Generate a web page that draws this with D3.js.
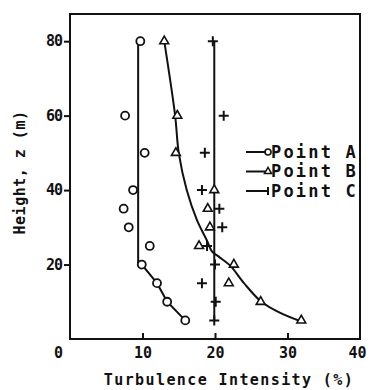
<!DOCTYPE html>
<html>
<head>
<meta charset="utf-8">
<script src="https://cdn.jsdelivr.net/npm/d3@7"></script>
<style>
  body { margin: 0; background: #fff; }
  text { font-family: "DejaVu Sans Mono", monospace; font-weight: bold; fill: #111; }
</style>
</head>
<body>
<div id="chart-container"></div>
<script>
// heights (m) where the three points were measured
const heights = [80, 60, 50, 40, 35, 30, 25, 20, 15, 10, 5];
const pointA = [9.7, 7.6, 10.3, 8.7, 7.4, 8.1, 11.0, 9.9, 12.0, 13.4, 15.9];
const pointB = [13.0, 14.8, 14.6, 19.9, 19.0, 19.3, 17.8, 22.6, 21.9, 26.3, 31.9];
const pointC = [19.7, 21.2, 18.6, 18.2, 20.6, 21.0, 18.9, 20.0, 18.2, 20.1, 19.9];

// fitted lines drawn through the points (intensity, height)
const fitA = [[9.4, 80], [9.4, 20], [9.9, 20], [12.0, 15], [13.4, 10], [15.9, 5]];
const fitB = [[13.0, 80], [14.5, 60], [15.0, 50], [16.1, 40], [17.5, 32], [18.9, 26.4], [19.6, 23.5],
              [20.6, 22], [22.1, 19.7], [24.0, 15], [26.4, 10], [29.0, 7], [31.9, 4.7]];
const fitC = [[19.9, 80], [19.9, 5]];

const xTicks = [0, 10, 20, 30, 40];
const yTicks = [20, 40, 60, 80];
const seriesNames = ["Point A", "Point B", "Point C"];

const margin = { top: 14, right: 14, bottom: 51, left: 70 };
const width = 374 - margin.left - margin.right;
const height = 390 - margin.top - margin.bottom;

const x = d3.scaleLinear().domain([0, 40]).range([0, width]);
const y = d3.scaleLinear().domain([0, 87.3]).range([height, 0]);

const svg = d3.select("#chart-container")
  .append("svg")
    .attr("width", 374)
    .attr("height", 390)
  .append("g")
    .attr("transform", `translate(${margin.left},${margin.top})`);

// frame
svg.append("rect")
  .attr("width", width)
  .attr("height", height)
  .attr("fill", "none")
  .attr("stroke", "#111")
  .attr("stroke-width", 2);

// x axis, ticks point inward
const xAxis = svg.append("g")
  .attr("transform", `translate(0,${height})`)
  .call(d3.axisBottom(x).tickValues(xTicks).tickSizeInner(-6).tickSizeOuter(0).tickPadding(8));
xAxis.select(".domain").remove();
xAxis.selectAll(".tick line")
  .attr("stroke", "#111").attr("stroke-width", 2)
  .style("display", d => (d === 0 || d === 40) ? "none" : null);
xAxis.selectAll(".tick text")
  .style("font-size", "15px")
  .attr("dx", d => d === 0 ? -12 : d === 40 ? -3 : 0);

// y axis, ticks point outward
const yAxis = svg.append("g")
  .call(d3.axisLeft(y).tickValues(yTicks).tickSizeInner(6).tickSizeOuter(0).tickPadding(2));
yAxis.select(".domain").remove();
yAxis.selectAll(".tick line").attr("stroke", "#111").attr("stroke-width", 2);
yAxis.selectAll(".tick text").style("font-size", "15px").attr("letter-spacing", "-1px");

// fitted lines
const line = d3.line()
  .x(d => x(d[0]))
  .y(d => y(d[1]));

svg.append("path").datum(fitA).attr("d", line)
  .attr("fill", "none").attr("stroke", "#111").attr("stroke-width", 2);
svg.append("path").datum(fitB).attr("d", line.curve(d3.curveCatmullRom))
  .attr("fill", "none").attr("stroke", "#111").attr("stroke-width", 2);
svg.append("path").datum(fitC).attr("d", line.curve(d3.curveLinear))
  .attr("fill", "none").attr("stroke", "#111").attr("stroke-width", 2);

// markers
const tri = d3.symbol().type(d3.symbolTriangle).size(34);
const plus = "M-5,0H5M0,-5V5";

svg.selectAll(".ptA")
  .data(heights.map((h, i) => [pointA[i], h]))
  .join("circle")
  .attr("cx", d => x(d[0]))
  .attr("cy", d => y(d[1]))
  .attr("r", 4)
  .attr("fill", "#fff")
  .attr("stroke", "#111")
  .attr("stroke-width", 1.8);

svg.selectAll(".ptB")
  .data(heights.map((h, i) => [pointB[i], h]))
  .join("path")
  .attr("transform", d => `translate(${x(d[0])},${y(d[1])})`)
  .attr("d", tri)
  .attr("fill", "#fff")
  .attr("stroke", "#111")
  .attr("stroke-width", 1.6);

svg.selectAll(".ptC")
  .data(heights.map((h, i) => [pointC[i], h]))
  .join("path")
  .attr("transform", d => `translate(${x(d[0])},${y(d[1])})`)
  .attr("d", plus)
  .attr("fill", "none")
  .attr("stroke", "#111")
  .attr("stroke-width", 2);

// legend
const legend = svg.append("g")
  .attr("transform", `translate(${176},${138})`);

seriesNames.forEach((name, i) => {
  const g = legend.append("g").attr("transform", `translate(0,${i * 19.5})`);
  g.append("line")
    .attr("x1", 0).attr("x2", 22)
    .attr("stroke", "#111").attr("stroke-width", 2);
  if (i === 0) {
    g.append("circle").attr("cx", 22).attr("r", 3).attr("fill", "#fff")
      .attr("stroke", "#111").attr("stroke-width", 1.6);
  } else if (i === 1) {
    g.append("path").attr("transform", "translate(22,0)")
      .attr("d", d3.symbol().type(d3.symbolTriangle).size(22))
      .attr("fill", "#fff").attr("stroke", "#111").attr("stroke-width", 1.5);
  } else {
    g.append("path").attr("transform", "translate(22,0)")
      .attr("d", "M0,-4V4").attr("stroke", "#111").attr("stroke-width", 2);
  }
  g.append("text")
    .attr("x", 25)
    .attr("dy", "0.35em")
    .style("font-size", "17px")
    .attr("letter-spacing", "2.2px")
    .text(name);
});

// axis titles
svg.append("text")
  .attr("x", (x(0) + x(40)) / 2 + 14)
  .attr("y", height + 46)
  .style("text-anchor", "middle")
  .style("font-size", "15px")
  .attr("letter-spacing", "1.4px")
  .text("Turbulence Intensity (%)");

svg.append("text")
  .attr("transform", "rotate(-90)")
  .attr("x", -(y(0) + y(87.3)) / 2 + 4)
  .attr("y", -45)
  .style("text-anchor", "middle")
  .style("font-size", "15px")
  .attr("letter-spacing", "0.5px")
  .text("Height, z (m)");
</script>
</body>
</html>
